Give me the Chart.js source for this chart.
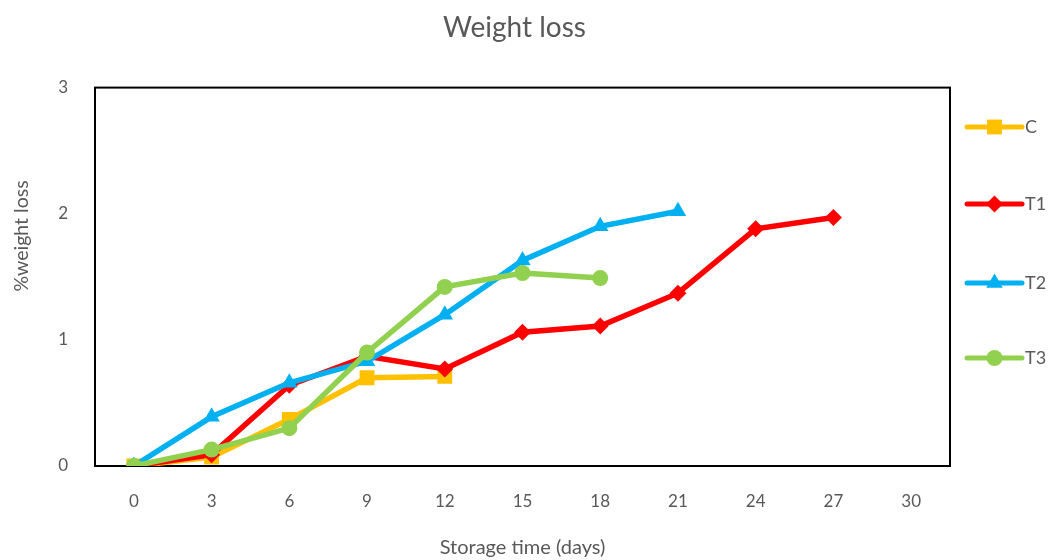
<!DOCTYPE html>
<html>
<head>
<meta charset="utf-8">
<script src="https://cdn.jsdelivr.net/npm/chart.js@4"></script>
<style>
  html, body { margin: 0; padding: 0; background: #fff; }
  #wrap { width: 1049px; height: 560px; }
</style>
</head>
<body>
<div id="wrap"><canvas id="chart"></canvas></div>
<script>
const days = ['0', '3', '6', '9', '12', '15', '18', '21', '24', '27', '30'];
const seriesC = [0, 0.07, 0.37, 0.70, 0.71];
const seriesT1 = [0, 0.09, 0.64, 0.87, 0.77, 1.06, 1.11, 1.37, 1.88, 1.97];
const seriesT2 = [0, 0.39, 0.66, 0.83, 1.20, 1.63, 1.90, 2.02];
const seriesT3 = [0, 0.13, 0.30, 0.90, 1.42, 1.53, 1.49];
const yTitle = '%weight loss';

const textColor = '#595959';
const fontFamily = 'Lato, "Noto Sans", sans-serif';

// box around the plot area
const frame = {
  id: 'frame',
  beforeDatasetsDraw(chart) {
    const a = chart.chartArea;
    const ctx = chart.ctx;
    ctx.save();
    ctx.strokeStyle = '#000';
    ctx.lineWidth = 2;
    ctx.strokeRect(a.left, a.top, a.right - a.left, a.bottom - a.top);
    ctx.restore();
  }
};

// y title sits a bit above the middle of the axis in the original
const yTitlePlugin = {
  id: 'yTitlePlugin',
  afterDraw(chart) {
    const ctx = chart.ctx;
    ctx.save();
    ctx.translate(22, 236);
    ctx.rotate(-Math.PI / 2);
    ctx.fillStyle = textColor;
    ctx.font = '19.5px ' + fontFamily;
    ctx.textAlign = 'center';
    ctx.textBaseline = 'middle';
    ctx.fillText(yTitle, 0, 0);
    ctx.restore();
  }
};

// legend on the right: line sample with marker, one entry per series
const sideLegend = {
  id: 'sideLegend',
  afterDraw(chart) {
    const ctx = chart.ctx;
    const a = chart.chartArea;
    const x0 = a.right + 17, x1 = a.right + 72;
    const ys = [127, 204, 283, 358];
    chart.data.datasets.forEach((ds, i) => {
      const y = ys[i];
      ctx.save();
      ctx.strokeStyle = ds.borderColor;
      ctx.lineWidth = 5;
      ctx.lineCap = 'round';
      ctx.beginPath();
      ctx.moveTo(x0, y);
      ctx.lineTo(x1, y);
      ctx.stroke();
      ctx.fillStyle = ds.borderColor;
      Chart.helpers.drawPoint(ctx, {
        pointStyle: ds.pointStyle,
        radius: ds.pointRadius,
        borderWidth: 0
      }, (x0 + x1) / 2, y);
      ctx.fillStyle = textColor;
      ctx.font = '18px ' + fontFamily;
      ctx.textBaseline = 'middle';
      ctx.fillText(ds.label, x1 + 3, y);
      ctx.restore();
    });
  }
};

function series(label, data, color, style, radius, order) {
  return {
    label: label,
    data: data,
    borderColor: color,
    backgroundColor: color,
    borderWidth: 5.5,
    pointStyle: style,
    pointRadius: radius,
    pointHoverRadius: radius,
    pointBorderWidth: 0,
    tension: 0,
    order: order
  };
}

new Chart(document.getElementById('chart'), {
  type: 'line',
  data: {
    labels: days,
    datasets: [
      series('C', seriesC, '#FFC000', 'rect', 10.5, 4),
      series('T1', seriesT1, '#FF0000', 'rectRot', 8.5, 3),
      series('T2', seriesT2, '#00B0F0', 'triangle', 9.5, 2),
      series('T3', seriesT3, '#92D050', 'circle', 8, 1)
    ]
  },
  options: {
    responsive: true,
    maintainAspectRatio: false,
    animation: false,
    layout: { padding: { left: 0, right: 20, top: 0, bottom: 0 } },
    plugins: {
      legend: { display: false },
      tooltip: { enabled: false },
      title: {
        display: true,
        text: 'Weight loss',
        color: textColor,
        font: { family: fontFamily, size: 28, weight: 'normal' },
        padding: { top: 11, bottom: 43 }
      }
    },
    scales: {
      x: {
        type: 'category',
        offset: true,
        grid: { display: false, drawTicks: false },
        border: { display: false },
        ticks: {
          color: textColor,
          font: { family: fontFamily, size: 17 },
          padding: 25,
          maxRotation: 0,
          autoSkip: false
        },
        title: {
          display: true,
          text: 'Storage time (days)',
          color: textColor,
          font: { family: fontFamily, size: 20 },
          padding: { top: 0, bottom: 0 }
        },
        afterFit(scale) { scale.height = 94; }
      },
      y: {
        min: 0,
        max: 3,
        grid: { display: false, drawTicks: false },
        border: { display: false },
        ticks: {
          stepSize: 1,
          color: textColor,
          font: { family: fontFamily, size: 17 },
          padding: 27
        },
        afterFit(scale) { scale.width = 95; }
      },
      // empty right-hand axis reserves room for the legend
      yRight: {
        position: 'right',
        display: true,
        min: 0,
        max: 3,
        grid: { display: false, drawTicks: false },
        border: { display: false },
        ticks: { display: false },
        afterFit(scale) { scale.width = 79; }
      }
    }
  },
  plugins: [frame, yTitlePlugin, sideLegend]
});
</script>
</body>
</html>
